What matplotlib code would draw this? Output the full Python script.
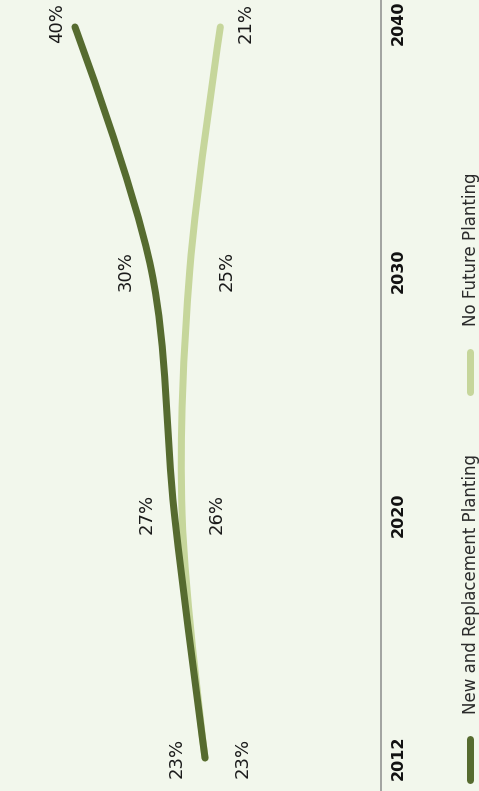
import matplotlib
matplotlib.use('Agg')
import matplotlib.pyplot as plt
import numpy as np
from matplotlib.lines import Line2D
from matplotlib.patches import PathPatch
from matplotlib.path import Path

# canopy cover projections
years = ['2012', '2020', '2030', '2040']
new_planting = [23, 27, 30, 40]
no_planting = [23, 26, 25, 21]

series_names = ['New and Replacement Planting', 'No Future Planting']

BG = '#f2f7ec'
DARK = '#566b2f'
LIGHT = '#c6d69b'
PX = 72 / 100  # points per pixel at dpi=100


def catmull_rom_beziers(pts, alpha=0.5):
    """Centripetal Catmull-Rom as cubic Bezier segments (same rules as d3.curveCatmullRom)."""
    pts = np.asarray(pts, dtype=float)
    n = len(pts)
    segs = []
    for i in range(n - 1):
        p1, p2 = pts[i], pts[i + 1]
        l12 = np.linalg.norm(p2 - p1)
        c1, c2 = p1.copy(), p2.copy()
        if i > 0:
            p0 = pts[i - 1]
            l01 = np.linalg.norm(p1 - p0)
            a01, a12 = l01 ** alpha, l12 ** alpha
            a = 2 * a01 ** 2 + 3 * a01 * a12 + a12 ** 2
            m = 3 * a01 * (a01 + a12)
            c1 = (p1 * a - p0 * a12 ** 2 + p2 * a01 ** 2) / m
        if i < n - 2:
            p3 = pts[i + 2]
            l23 = np.linalg.norm(p3 - p2)
            a23, a12 = l23 ** alpha, l12 ** alpha
            b = 2 * a23 ** 2 + 3 * a23 * a12 + a12 ** 2
            m = 3 * a23 * (a23 + a12)
            c2 = (p2 * b + p1 * a23 ** 2 - p3 * a12 ** 2) / m
        segs.append((c1, c2, p2))
    return segs


def smooth_path(ax, values):
    # horizontal axis = value, vertical axis = category index; spline built in pixel space
    data = np.column_stack([values, np.arange(len(values))])
    disp = ax.transData.transform(data)
    inv = ax.transData.inverted()
    verts = [tuple(data[0])]
    codes = [Path.MOVETO]
    for c1, c2, p in catmull_rom_beziers(disp):
        verts += [tuple(q) for q in inv.transform(np.array([c1, c2, p]))]
        codes += [Path.CURVE4] * 3
    return Path(verts, codes)


fig = plt.figure(figsize=(4.79, 7.91), dpi=100)
fig.set_facecolor(BG)
ax = fig.add_axes([0, 0, 1, 1])
ax.set_facecolor(BG)
ax.set_axis_off()
ax.set_xlim(49.8, -12.81)
ax.set_ylim(-0.1354, 3.1107)

# zero baseline
ax.axvline(0, color='#8a8a8a', lw=1.5 * PX, zorder=1)

for vals, color in [(no_planting, LIGHT), (new_planting, DARK)]:
    ax.add_patch(PathPatch(smooth_path(ax, vals), facecolor='none', edgecolor=color,
                           lw=7 * PX, capstyle='round', joinstyle='round', zorder=3))

# value labels: dark series on the left of its line, light one on the right
dark_shift = [-28, -28, -26, -18]
light_shift = [38, 35, 37, 25]
for i, (a, b) in enumerate(zip(new_planting, no_planting)):
    dy = 4 if i == len(years) - 1 else 0
    ax.annotate(f'{a}%', (a, i), xytext=(dark_shift[i] * PX, dy * PX), textcoords='offset points',
                rotation=90, ha='center', va='center', fontsize=13, color='#1a1a1a')
    ax.annotate(f'{b}%', (b, i), xytext=(light_shift[i] * PX, dy * PX), textcoords='offset points',
                rotation=90, ha='center', va='center', fontsize=13, color='#1a1a1a')

# year labels below the baseline
for i, yr in enumerate(years):
    dy = 4 if i == len(years) - 1 else 0
    ax.annotate(yr, (0, i), xytext=(17 * PX, dy * PX), textcoords='offset points',
                rotation=90, ha='center', va='center', fontsize=11.5,
                fontweight='bold', color='#111111')

# legend, drawn vertically along the right edge
W, H = 479, 791
for color, name, (y0, y1), ytxt in [(DARK, series_names[0], (738.5, 779.5), 714),
                                    (LIGHT, series_names[1], (351.5, 392.5), 326)]:
    fig.add_artist(Line2D([469.5 / W, 469.5 / W], [1 - y1 / H, 1 - y0 / H],
                          transform=fig.transFigure, color=color, lw=7 * PX,
                          solid_capstyle='round'))
    fig.text(470.5 / W, 1 - ytxt / H, name, rotation=90, ha='center', va='bottom',
             fontsize=12, color='#2a2a2a')

fig.savefig('out.png', dpi=100, facecolor=BG)
